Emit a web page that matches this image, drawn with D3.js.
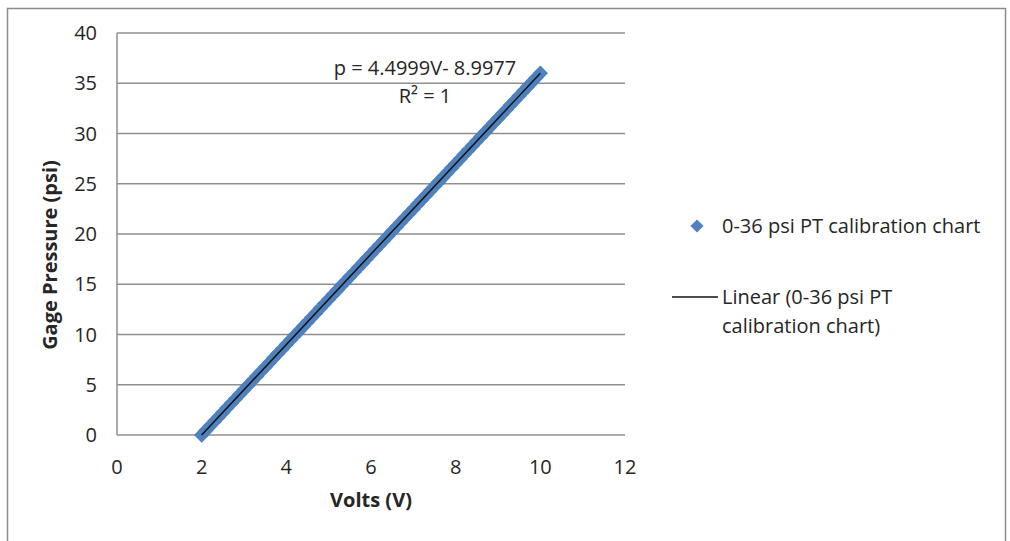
<!DOCTYPE html>
<html><head><meta charset="utf-8">
<script src="https://cdn.jsdelivr.net/npm/d3@7"></script>
<style>body{margin:0;background:#fff}svg{display:block}text{font-family:"Open Sans",sans-serif}</style>
</head><body><svg id="c" width="1010" height="541"></svg>
<script>
const volts = [2.0,2.1,2.2,2.3,2.4,2.5,2.6,2.7,2.8,2.9,3.0,3.1,3.2,3.3,3.4,3.5,3.6,3.7,3.8,3.9,4.0,4.1,4.2,4.3,4.4,4.5,4.6,4.7,4.8,4.9,5.0,5.1,5.2,5.3,5.4,5.5,5.6,5.7,5.8,5.9,6.0,6.1,6.2,6.3,6.4,6.5,6.6,6.7,6.8,6.9,7.0,7.1,7.2,7.3,7.4,7.5,7.6,7.7,7.8,7.9,8.0,8.1,8.2,8.3,8.4,8.5,8.6,8.7,8.8,8.9,9.0,9.1,9.2,9.3,9.4,9.5,9.6,9.7,9.8,9.9,10.0];
const pressure = [0.0,0.45,0.9,1.35,1.8,2.25,2.7,3.15,3.6,4.05,4.5,4.95,5.4,5.85,6.3,6.75,7.2,7.65,8.1,8.55,9.0,9.45,9.9,10.35,10.8,11.25,11.7,12.15,12.6,13.05,13.5,13.95,14.4,14.85,15.3,15.75,16.2,16.65,17.1,17.55,18.0,18.45,18.9,19.35,19.8,20.25,20.7,21.15,21.6,22.05,22.5,22.95,23.4,23.85,24.3,24.75,25.2,25.65,26.1,26.55,27.0,27.45,27.9,28.35,28.8,29.25,29.7,30.15,30.6,31.05,31.5,31.95,32.4,32.85,33.3,33.75,34.2,34.65,35.1,35.55,36.0];
const trendX = [2, 10];
const trendY = [0.0021, 36.0013];
const xTicks = [0,2,4,6,8,10,12];
const yTicks = [0,5,10,15,20,25,30,35,40];
const seriesName = "0-36 psi PT calibration chart";
const trendName = ["Linear (0-36 psi PT", "calibration chart)"];
const eqLines = ["p = 4.4999V- 8.9977", "R\u00B2 = 1"];

const svg = d3.select("#c");
svg.append("rect").attr("x",7.5).attr("y",8.5).attr("width",998).attr("height",540).attr("fill","none").attr("stroke","#8c8c8c").attr("stroke-width",1.5);

const x = d3.scaleLinear().domain([0,12]).range([117,625]);
const y = d3.scaleLinear().domain([0,40]).range([435,33]);
const grid = "#8f8f8f";
const fs = 20;
const ink = "#262626";

svg.append("g").selectAll("line").data(yTicks).join("line")
  .attr("x1",x(0)).attr("x2",x(12)).attr("y1",d=>y(d)).attr("y2",d=>y(d))
  .attr("stroke",grid).attr("stroke-width",1.5);
svg.append("line").attr("x1",x(0)).attr("x2",x(0)).attr("y1",y(0)).attr("y2",y(40)).attr("stroke",grid).attr("stroke-width",1.5);

svg.append("g").selectAll("text").data(yTicks).join("text")
  .attr("x",97).attr("y",d=>y(d)).attr("dy","0.35em").attr("text-anchor","end")
  .attr("font-size",fs).attr("fill",ink).text(d=>d);
svg.append("g").selectAll("text").data(xTicks).join("text")
  .attr("x",d=>x(d)).attr("y",467).attr("dy","0.35em").attr("text-anchor","middle")
  .attr("font-size",fs).attr("fill",ink).text(d=>d);

svg.append("text").attr("x",371).attr("y",500).attr("dy","0.35em").attr("text-anchor","middle")
  .attr("font-size",fs).attr("font-weight","bold").attr("fill",ink).text("Volts (V)");
svg.append("text").attr("transform","translate(50,255) rotate(-90)").attr("dy","0.35em").attr("text-anchor","middle")
  .attr("font-size",fs).attr("font-weight","bold").attr("fill",ink).text("Gage Pressure (psi)");

const diamond = d3.symbol().type(d3.symbolDiamond2).size(150);
const blue = "#4f81bd";
svg.append("g").selectAll("path").data(volts.map((v,i)=>[v,pressure[i]])).join("path")
  .attr("d",diamond).attr("transform",d=>`translate(${x(d[0])},${y(d[1])})`)
  .attr("fill",blue);

svg.append("line").attr("x1",x(trendX[0])).attr("y1",y(trendY[0])).attr("x2",x(trendX[1])).attr("y2",y(trendY[1]))
  .attr("stroke","#111").attr("stroke-width",1.5);

svg.append("g").selectAll("text").data(eqLines).join("text")
  .attr("x",425).attr("y",(d,i)=>68+i*28).attr("dy","0.35em").attr("text-anchor","middle")
  .attr("font-size",fs).attr("fill",ink).text(d=>d);

svg.append("path").attr("d",d3.symbol().type(d3.symbolDiamond2).size(110)).attr("transform","translate(697,226)").attr("fill",blue);
svg.append("text").attr("x",722).attr("y",226).attr("dy","0.35em").attr("font-size",fs).attr("fill",ink).text(seriesName);
svg.append("line").attr("x1",672).attr("x2",718).attr("y1",297).attr("y2",297).attr("stroke","#111").attr("stroke-width",1.5);
svg.append("g").selectAll("text").data(trendName).join("text")
  .attr("x",722).attr("y",(d,i)=>297+i*29).attr("dy","0.35em").attr("font-size",fs).attr("fill",ink).text(d=>d);
</script></body></html>
